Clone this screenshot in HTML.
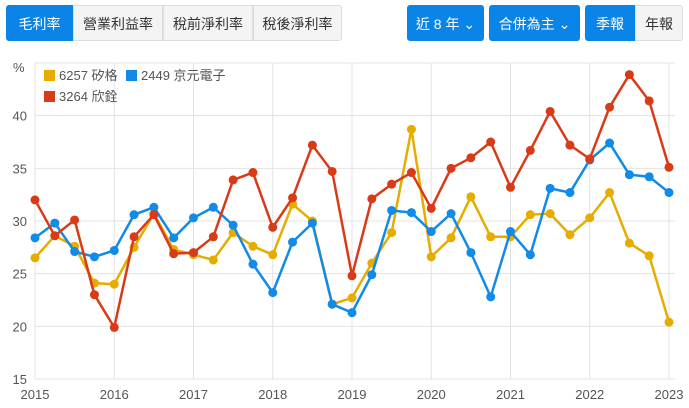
<!DOCTYPE html>
<html><head><meta charset="utf-8"><style>
body{margin:0;width:689px;height:408px;background:#fff;font-family:"Liberation Sans","Noto Sans CJK TC",sans-serif;overflow:hidden;position:relative}
.btn{position:absolute;top:5px;height:36px;line-height:36px;text-align:center;font-size:14px;box-sizing:border-box;border:1px solid #ddd;background:#f4f4f4;color:#333}
.on{background:#0a84e6;color:#fff;border-color:#0a84e6}
</style></head><body>
<div class="btn on" style="left:6px;width:67px;border-radius:3px 0 0 3px">毛利率</div>
<div class="btn" style="left:73px;width:90px">營業利益率</div>
<div class="btn" style="left:163px;width:90px">稅前淨利率</div>
<div class="btn" style="left:253px;width:89px;border-radius:0 3px 3px 0">稅後淨利率</div>
<div class="btn on" style="left:407px;width:77px;border-radius:3px">近 8 年 ⌄</div>
<div class="btn on" style="left:489px;width:91px;border-radius:3px">合併為主 ⌄</div>
<div class="btn on" style="left:585px;width:50px;border-radius:3px 0 0 3px">季報</div>
<div class="btn" style="left:635px;width:48px;border-radius:0 3px 3px 0;background:#f4f4f4">年報</div>
<svg id="chart" width="689" height="408" style="position:absolute;left:0;top:0">
<g id="grid"></g><g id="lines"></g><g id="legend"></g>
</svg>
<script>
const years=["2015","2016","2017","2018","2019","2020","2021","2022","2023"];
const yTicks=[15,20,25,30,35,40];
const s6257=[26.5,28.6,27.6,24.1,24.0,27.5,30.7,27.3,26.8,26.3,28.9,27.6,26.8,31.6,30.0,22.1,22.7,26.0,28.9,38.7,26.6,28.4,32.3,28.5,28.5,30.6,30.7,28.7,30.3,32.7,27.9,26.7,20.4];
const s2449=[28.4,29.8,27.1,26.6,27.2,30.6,31.3,28.4,30.3,31.3,29.6,25.9,23.2,28.0,29.8,22.1,21.3,24.9,31.0,30.8,29.0,30.7,27.0,22.8,29.0,26.8,33.1,32.7,35.8,37.4,34.4,34.2,32.7];
const s3264=[32.0,28.6,30.1,23.0,19.9,28.5,30.6,26.9,27.0,28.5,33.9,34.6,29.4,32.2,37.2,34.7,24.8,32.1,33.5,34.6,31.2,35.0,36.0,37.5,33.2,36.7,40.4,37.2,35.9,40.8,43.9,41.4,35.1];
const NS="http://www.w3.org/2000/svg";
const X=i=>35+i*(634/32);
const Y=v=>379-(v-15)*(316/30);
function mk(t,a,p){const e=document.createElementNS(NS,t);for(const k in a)e.setAttribute(k,a[k]);p.appendChild(e);return e;}
const grid=document.getElementById('grid');
mk('line',{x1:35,x2:675,y1:Y(45),y2:Y(45),stroke:'#e3e3e3'},grid);
yTicks.forEach(t=>{
 const l=mk('line',{x1:35,x2:675,y1:Y(t),y2:Y(t),stroke:'#e3e3e3'},grid);
 
 
 const tx=mk('text',{x:27,y:Y(t)+5,'text-anchor':'end','font-size':13,fill:'#555'},grid);
 tx.textContent=t;
 
 
});
const pct=mk('text',{x:13,y:72,'font-size':13,fill:'#555'},grid);pct.textContent='%';


years.forEach((y,j)=>{
 const x=X(j*4);
 const l=mk('line',{x1:x,x2:x,y1:Y(45),y2:Y(15),stroke:'#e3e3e3'},grid);
 
 
 const tx=mk('text',{x:x,y:399,'text-anchor':'middle','font-size':13,fill:'#555'},grid);
 tx.textContent=y;
 
 
});
const series=[[s6257,'#e6ac00','6257-series'],[s2449,'#118ae8','2449-series'],[s3264,'#d93a17','3264-series']];
const lines=document.getElementById('lines');
series.forEach(([d,c,n])=>{
 const g=mk('g',{},lines);
 
 
 mk('polyline',{points:d.map((v,i)=>X(i)+','+Y(v)).join(' '),fill:'none',stroke:c,'stroke-width':2.5},g);
 d.forEach((v,i)=>{
  const p=mk('circle',{cx:X(i),cy:Y(v),r:4.5,fill:c},g);
  
  
 });
});
const lg=document.getElementById('legend');
[['6257 矽格','#e6ac00',44,80],['2449 京元電子','#118ae8',126,80],['3264 欣銓','#d93a17',44,101]].forEach(([t,c,x,y])=>{
 const g=mk('g',{},lg);
 
 
 mk('rect',{x:x,y:y-10,width:11,height:11,fill:c},g);
 const tx=mk('text',{x:x+15,y:y,'font-size':13,fill:'#555'},g);tx.textContent=t;
});
</script>
</body></html>
